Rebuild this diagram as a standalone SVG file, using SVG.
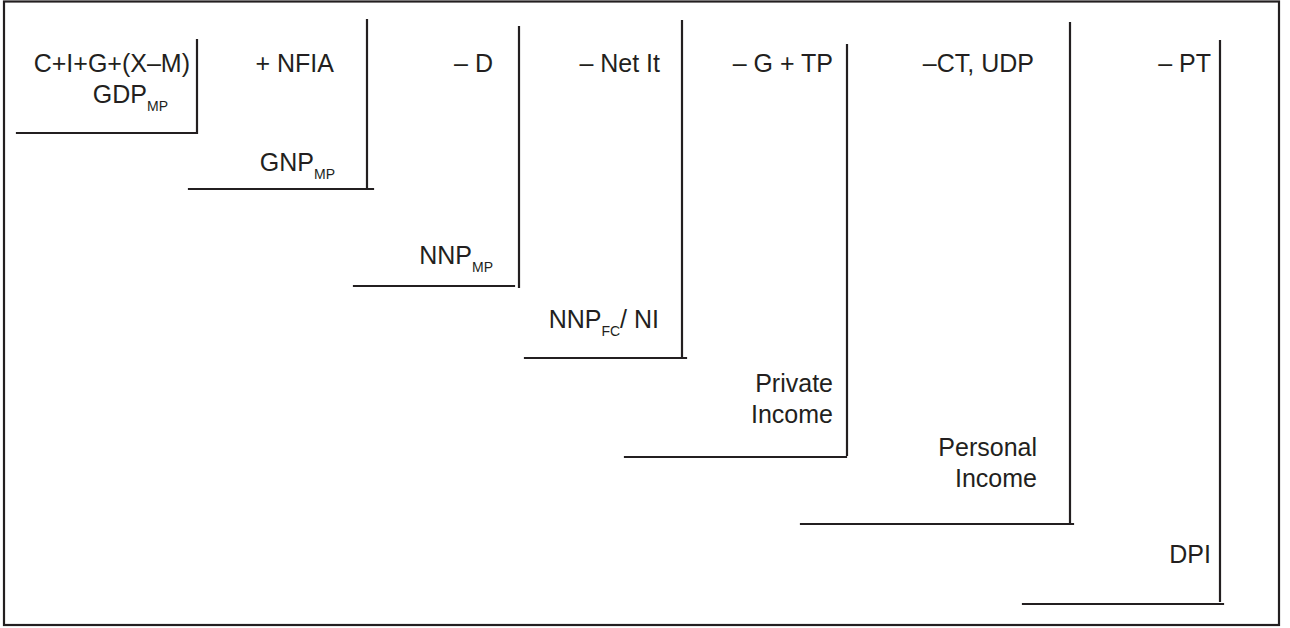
<svg xmlns="http://www.w3.org/2000/svg" width="1290" height="628" viewBox="0 0 1290 628">
<style>
.ln{stroke:#231f20;stroke-width:2.2;fill:none;stroke-linecap:square}
.t{font-family:"Liberation Sans",Arial,Helvetica,sans-serif;font-size:25px;fill:#231f20;text-anchor:end}
.s{font-size:14px}
</style>
<rect x="0" y="0" width="1290" height="628" fill="#ffffff"/>
<rect x="4" y="1.5" width="1275" height="623.5" class="ln"/>
<g id="connectors">
<path class="ln" d="M197 40V133M17 133H197"/>
<path class="ln" d="M367 20V189M189 189H373"/>
<path class="ln" d="M519 27V287M354 286H514"/>
<path class="ln" d="M682 21V358M525 358H686"/>
<path class="ln" d="M847 45V455M625 457H846"/>
<path class="ln" d="M1070 23V524M801 524H1073"/>
<path class="ln" d="M1220 41V601M1023 604H1223"/>
</g>
<g id="gdp"><text class="t" x="190" y="72">C+I+G+(X–M)</text><text class="t" x="168" y="103">GDP<tspan class="s" dy="8">MP</tspan></text></g>
<g id="gnp"><text class="t" x="334" y="72">+ NFIA</text><text class="t" x="335" y="171">GNP<tspan class="s" dy="8">MP</tspan></text></g>
<g id="nnpmp"><text class="t" x="493" y="72">– D</text><text class="t" x="493" y="264">NNP<tspan class="s" dy="8">MP</tspan></text></g>
<g id="nnpfc"><text class="t" x="660" y="72">– Net It</text><text class="t" x="659" y="328">NNP<tspan class="s" dy="8">FC</tspan><tspan dy="-8">/ NI</tspan></text></g>
<g id="private"><text class="t" x="833" y="72">– G + TP</text><text class="t" x="833" y="392">Private</text><text class="t" x="833" y="423">Income</text></g>
<g id="personal"><text class="t" x="1034" y="72">–CT, UDP</text><text class="t" x="1037" y="456">Personal</text><text class="t" x="1037" y="487">Income</text></g>
<g id="dpi"><text class="t" x="1211" y="72">– PT</text><text class="t" x="1211" y="563">DPI</text></g>
</svg>
